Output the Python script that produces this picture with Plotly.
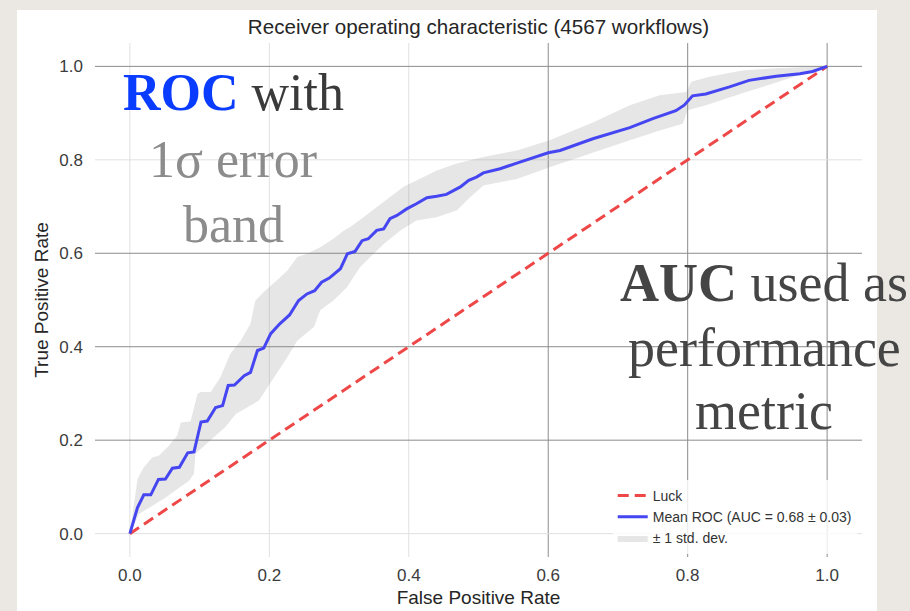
import plotly.graph_objects as go

# ---------------- data ----------------
mean_fpr = [0.0, 0.011, 0.020, 0.030, 0.041, 0.051, 0.061, 0.071, 0.083, 0.092,
            0.102, 0.111, 0.123, 0.133, 0.141, 0.150, 0.164, 0.173, 0.183, 0.192,
            0.202, 0.215, 0.229, 0.242, 0.254, 0.265, 0.275, 0.286, 0.302, 0.312,
            0.323, 0.333, 0.342, 0.354, 0.364, 0.373, 0.383, 0.397, 0.411, 0.426,
            0.440, 0.454, 0.464, 0.474, 0.486, 0.497, 0.507, 0.531, 0.555, 0.579,
            0.600, 0.617, 0.664, 0.717, 0.750, 0.783, 0.795, 0.807, 0.826, 0.860,
            0.888, 0.927, 0.961, 0.979, 1.0]
mean_tpr = [0.0, 0.056, 0.083, 0.083, 0.116, 0.117, 0.140, 0.142, 0.173, 0.175,
            0.239, 0.241, 0.270, 0.274, 0.317, 0.318, 0.338, 0.345, 0.392, 0.397,
            0.428, 0.449, 0.468, 0.499, 0.513, 0.520, 0.538, 0.547, 0.567, 0.599,
            0.604, 0.627, 0.631, 0.649, 0.652, 0.674, 0.681, 0.695, 0.706, 0.719,
            0.722, 0.726, 0.734, 0.742, 0.756, 0.763, 0.772, 0.781, 0.793, 0.804,
            0.815, 0.820, 0.845, 0.869, 0.888, 0.905, 0.917, 0.937, 0.941, 0.956,
            0.970, 0.979, 0.984, 0.989, 1.0]

upper_fpr = [0.0, 0.011, 0.020, 0.032, 0.042, 0.056, 0.068, 0.073, 0.087, 0.097,
             0.102, 0.116, 0.130, 0.144, 0.159, 0.173, 0.180, 0.192, 0.211, 0.226,
             0.240, 0.254, 0.273, 0.292, 0.307, 0.316, 0.335, 0.354, 0.373, 0.392,
             0.411, 0.440, 0.469, 0.507, 0.555, 0.602, 0.664, 0.717, 0.760, 0.798,
             0.805, 0.831, 0.878, 0.927, 1.0]
upper_tpr = [0.0, 0.117, 0.142, 0.163, 0.167, 0.188, 0.210, 0.238, 0.240, 0.299,
             0.303, 0.303, 0.335, 0.385, 0.413, 0.449, 0.499, 0.517, 0.542, 0.563,
             0.592, 0.599, 0.613, 0.631, 0.649, 0.656, 0.677, 0.699, 0.720, 0.742,
             0.756, 0.777, 0.792, 0.806, 0.820, 0.842, 0.880, 0.917, 0.938, 0.945,
             0.967, 0.978, 0.991, 0.996, 1.0]

lower_fpr = [0.0, 0.013, 0.037, 0.052, 0.071, 0.085, 0.092, 0.094, 0.118, 0.137,
             0.152, 0.185, 0.197, 0.226, 0.240, 0.264, 0.273, 0.292, 0.311, 0.330,
             0.364, 0.388, 0.411, 0.440, 0.469, 0.488, 0.507, 0.555, 0.602, 0.664,
             0.717, 0.760, 0.793, 0.800, 0.826, 0.884, 0.922, 0.961, 1.0]
lower_tpr = [0.0, 0.042, 0.064, 0.078, 0.099, 0.113, 0.128, 0.171, 0.203, 0.228,
             0.256, 0.285, 0.313, 0.378, 0.413, 0.442, 0.478, 0.499, 0.527, 0.570,
             0.620, 0.649, 0.670, 0.677, 0.692, 0.720, 0.745, 0.759, 0.784, 0.816,
             0.842, 0.863, 0.877, 0.906, 0.917, 0.945, 0.963, 0.981, 1.0]

luck_x = [0.0, 1.0]
luck_y = [0.0, 1.0]

tick_vals = [0.0, 0.2, 0.4, 0.6, 0.8, 1.0]
tick_text = ["0.0", "0.2", "0.4", "0.6", "0.8", "1.0"]
x_grid_dark = [0.6, 0.8, 1.0]
x_grid_light = [0.0, 0.2, 0.4]
y_grid_dark = [0.2, 0.4, 0.6, 1.0]
y_grid_light = [0.0, 0.8]

title_text = "Receiver operating characteristic (4567 workflows)"
legend_names = ["Luck", "Mean ROC (AUC = 0.68 \u00b1 0.03)", "\u00b1 1 std. dev."]

callout_left = ["<b><span style='color:#0a3cff'>ROC</span></b> with",
                "<span style='color:#8c8c8c'>1\u03c3 error</span>",
                "<span style='color:#8c8c8c'>band</span>"]
callout_right = ["<b>AUC</b> used as", "performance", "metric"]

# ---------------- figure ----------------
AX_RANGE = [-0.05, 1.05]
W, H = 910, 611
ML, MR, MT, MB = 95, 48, 43, 54
PW, PH = W - ML - MR, H - MT - MB


def px_to_paper(px, py):
    return (px - ML) / PW, (H - MB - py) / PH


fig = go.Figure()

band_x = upper_fpr + lower_fpr[::-1]
band_y = upper_tpr + lower_tpr[::-1]
fig.add_trace(go.Scatter(x=band_x, y=band_y, fill="toself", mode="lines",
                         line=dict(width=0, color="rgba(0,0,0,0)"),
                         fillcolor="rgba(128,128,128,0.2)",
                         name=legend_names[2], legendrank=3, hoverinfo="skip"))
fig.add_trace(go.Scatter(x=luck_x, y=luck_y, mode="lines",
                         line=dict(color="#ee4747", width=3, dash="11px,6px"),
                         name=legend_names[0], legendrank=1))
fig.add_trace(go.Scatter(x=mean_fpr, y=mean_tpr, mode="lines",
                         line=dict(color="#4545f2", width=3),
                         name=legend_names[1], legendrank=2))

shapes = []
# white slide panel
shapes.append(dict(type="rect", xref="paper", yref="paper",
                   x0=-0.1017, x1=1.0196, y0=-0.12, y1=1.064,
                   fillcolor="white", line=dict(width=0), layer="below"))
for xv in x_grid_light:
    shapes.append(dict(type="line", xref="x", yref="y", x0=xv, x1=xv,
                       y0=AX_RANGE[0], y1=AX_RANGE[1],
                       line=dict(color="#e0e0e0", width=1), layer="below"))
for xv in x_grid_dark:
    shapes.append(dict(type="line", xref="x", yref="y", x0=xv, x1=xv,
                       y0=AX_RANGE[0], y1=AX_RANGE[1],
                       line=dict(color="#8c8c8c", width=1), layer="below"))
for yv in y_grid_light:
    shapes.append(dict(type="line", xref="x", yref="y", y0=yv, y1=yv,
                       x0=AX_RANGE[0], x1=AX_RANGE[1],
                       line=dict(color="#e0e0e0", width=1), layer="below"))
for yv in y_grid_dark:
    shapes.append(dict(type="line", xref="x", yref="y", y0=yv, y1=yv,
                       x0=AX_RANGE[0], x1=AX_RANGE[1],
                       line=dict(color="#8c8c8c", width=1), layer="below"))

serif = "Liberation Serif, Times New Roman, serif"
annotations = []
for txt, cy in zip(callout_left, [92, 159, 225]):
    ax, ay = px_to_paper(233, cy)
    annotations.append(dict(xref="paper", yref="paper", x=ax, y=ay,
                            xanchor="center", yanchor="middle", showarrow=False,
                            font=dict(family=serif, size=52, color="#3a3a3a"),
                            text=txt))
for txt, cy in zip(callout_right, [283, 348, 411]):
    ax, ay = px_to_paper(764, cy)
    annotations.append(dict(xref="paper", yref="paper", x=ax, y=ay,
                            xanchor="center", yanchor="middle", showarrow=False,
                            font=dict(family=serif, size=54, color="#454545"),
                            text=txt))

sans = "Liberation Sans, Arial, sans-serif"
fig.update_layout(
    width=W, height=H,
    margin=dict(l=ML, r=MR, t=MT, b=MB, autoexpand=False),
    paper_bgcolor="#ebe8e3",
    plot_bgcolor="rgba(0,0,0,0)",
    title=dict(text=title_text, x=0.5, xref="paper", xanchor="center",
               y=1 - 27 / H, yanchor="middle",
               font=dict(family=sans, size=20.6, color="#262626")),
    xaxis=dict(range=AX_RANGE, tickvals=tick_vals, ticktext=tick_text,
               showgrid=False, zeroline=False, showline=False, ticks="",
               automargin=False,
               tickfont=dict(family=sans, size=17, color="#3c3c3c"),
               ticklabelstandoff=6,
               title=dict(text="False Positive Rate", standoff=6,
                          font=dict(family=sans, size=19, color="#262626"))),
    yaxis=dict(range=AX_RANGE, tickvals=tick_vals, ticktext=tick_text,
               showgrid=False, zeroline=False, showline=False, ticks="",
               automargin=False,
               tickfont=dict(family=sans, size=17, color="#3c3c3c"),
               ticklabelstandoff=11,
               title=dict(text="True Positive Rate", standoff=5,
                          font=dict(family=sans, size=19, color="#262626"))),
    legend=dict(x=0.675, y=0.15, xanchor="left", yanchor="top",
                bgcolor="rgba(255,255,255,0.8)",
                font=dict(family=sans, size=14, color="#333333"),
                tracegroupgap=0),
    shapes=shapes,
    annotations=annotations,
    showlegend=True,
)

fig.write_html("out.html")
